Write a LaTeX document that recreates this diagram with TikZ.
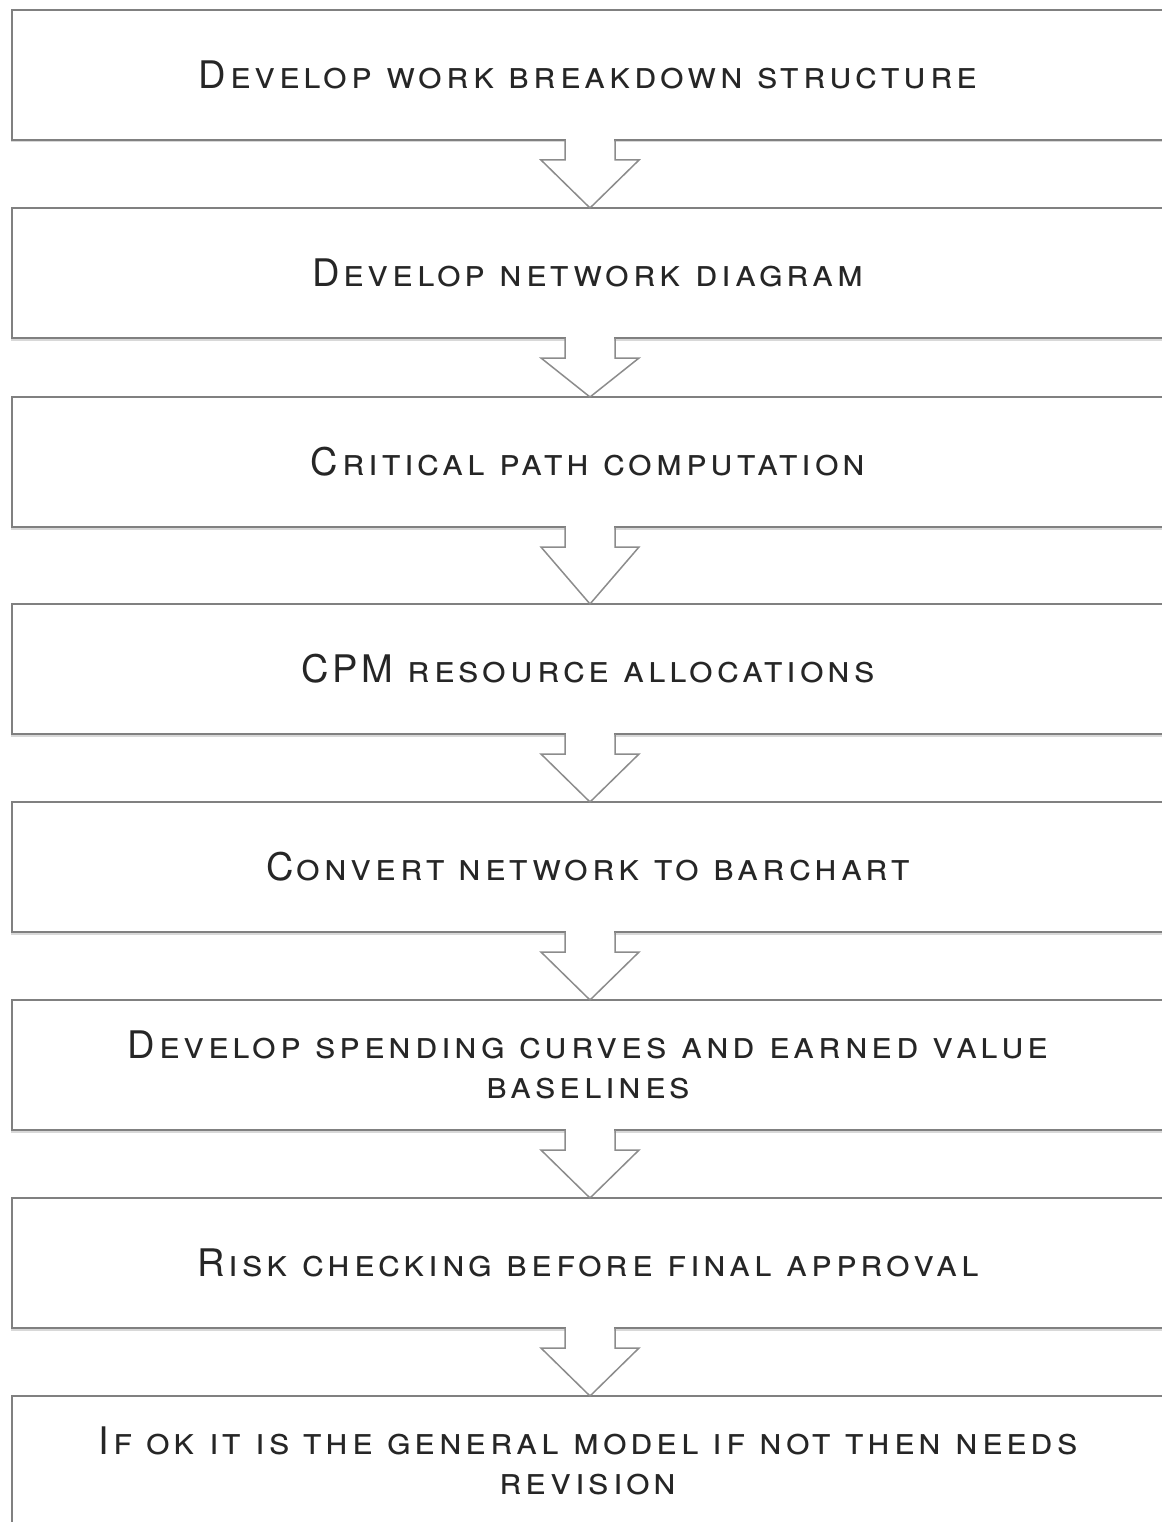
\documentclass[tikz,border=0pt]{standalone}
\usepackage{fontspec}
\setmainfont[LetterSpace=10]{TeX Gyre Heros}
\usetikzlibrary{positioning,shadows}

\begin{document}
\begin{tikzpicture}[
  x=1pt, y=-1pt,
  stage/.style={draw=black!50, line width=2.5pt, fill=white, outer sep=0pt,
    minimum width=1156pt, minimum height=130pt, inner sep=0pt, align=center,
    text=black!85, font=\fontsize{38}{44}\selectfont,
    drop shadow={shadow xshift=-1.5pt, shadow yshift=-2.5pt, opacity=0.3}},
  flow/.style={draw=black!45, line width=1.5pt, line join=miter}
]
  \useasboundingbox (0,0) rectangle (1161,1522);
  \fill[white] (0,0) rectangle (1161,1522);

  % Steps, top to bottom
  \node[stage] (s1) at (590,75)   {\textsc{Develop work breakdown structure}};
  \node[stage] (s2) at (590,273)  {\textsc{Develop network diagram}};
  \node[stage] (s3) at (590,462)  {\textsc{Critical path computation}};
  \node[stage] (s4) at (590,669)  {\textsc{CPM resource allocations}};
  \node[stage] (s5) at (590,867)  {\textsc{Convert network to barchart}};
  \node[stage] (s6) at (590,1065) {\textsc{Develop spending curves and earned value}\\[-4pt]\textsc{baselines}};
  \node[stage] (s7) at (590,1263) {\textsc{Risk checking before final approval}};
  \node[stage] (s8) at (590,1461) {\textsc{If ok it is the general model if not then needs}\\[-4pt]\textsc{revision}};

  % Hollow arrows between steps
  \foreach \a/\b in {s1/s2,s2/s3,s3/s4,s4/s5,s5/s6,s6/s7,s7/s8} {
    \fill[white] ([xshift=-24pt,yshift=3pt]\a.south) rectangle ([xshift=24pt,yshift=-20pt]\a.south);
    \draw[flow] ([xshift=-25pt]\a.south) -- ([xshift=-25pt,yshift=-20pt]\a.south)
      -- ([xshift=-49pt,yshift=-20pt]\a.south) -- (\b.north)
      -- ([xshift=49pt,yshift=-20pt]\a.south) -- ([xshift=25pt,yshift=-20pt]\a.south)
      -- ([xshift=25pt]\a.south);
  }
\end{tikzpicture}
\end{document}
